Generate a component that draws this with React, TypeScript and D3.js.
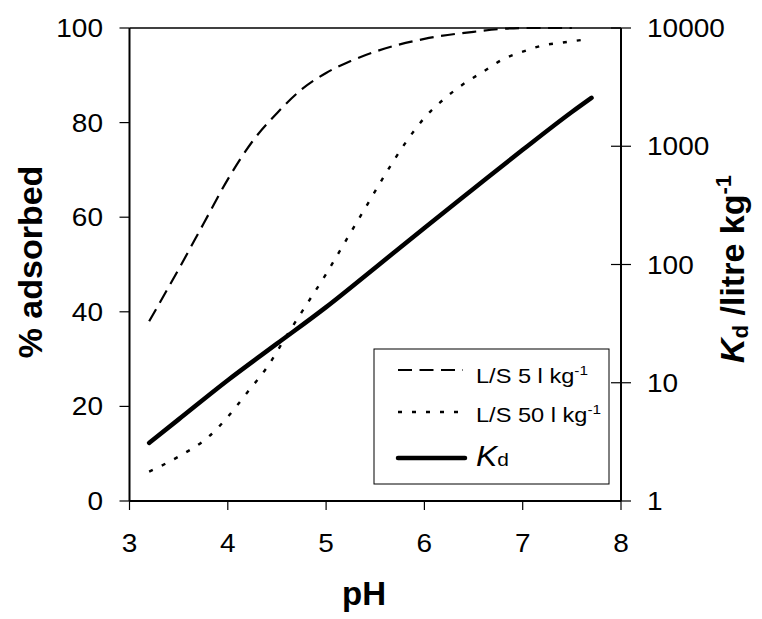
import React, { useEffect, useRef } from "react";
import * as d3 from "d3";

// pH points, one list per curve
const phLs5 = [3.2, 3.5, 3.75, 4, 4.25, 4.5, 4.75, 5, 5.25, 5.5, 6, 6.5, 7, 7.5];
const ls5Values = [38, 49, 58.5, 68, 76, 82, 87, 90.5, 93, 95, 97.7, 99.2, 100, 100];

const phLs50 = [3.2, 3.5, 3.8, 4, 4.2, 4.4, 4.6, 4.8, 5, 5.2, 5.4, 5.6, 5.8, 6, 6.2, 6.4, 6.6, 6.8, 7, 7.2, 7.4, 7.65];
const ls50Values = [6.2, 9.4, 13.5, 17.8, 23, 28.3, 35, 41.5, 48, 55, 62, 69, 75.5, 81, 85, 88.2, 90.8, 93.4, 95, 96.3, 96.9, 97.6];

const phKd = [3.2, 3.5, 4, 4.5, 5, 5.5, 6, 6.5, 7, 7.5, 7.7];
const kdValues = [3.1, 4.9, 10.5, 21.4, 43.6, 94, 204, 437, 933, 1950, 2570];

const xTicks = [3, 4, 5, 6, 7, 8];
const leftTicks = [0, 20, 40, 60, 80, 100];
const rightTicks = [1, 10, 100, 1000, 10000];

const W = 762;
const H = 619;
const FONT = "'Liberation Sans', Arial, sans-serif";

export default function App() {
  const svgRef = useRef<SVGSVGElement>(null);

  useEffect(() => {
    const svg = d3.select(svgRef.current);
    svg.selectAll("*").remove();

    const left = 129.5, right = 621, top = 28, bottom = 501;
    const X = d3.scaleLinear().domain([3, 8]).range([left, right]);
    const Y = d3.scaleLinear().domain([0, 100]).range([bottom, top]);
    const Yk = d3.scaleLog().domain([1, 10000]).range([bottom, top]);

    svg.append("rect").attr("width", W).attr("height", H).attr("fill", "#fff");

    // frame
    svg.append("line").attr("x1", left).attr("x2", right).attr("y1", top).attr("y2", top)
      .attr("stroke", "#000").attr("stroke-width", 1.5);

    // left axis
    const gl = svg.append("g");
    gl.append("line").attr("x1", left).attr("x2", left).attr("y1", top).attr("y2", bottom)
      .attr("stroke", "#000").attr("stroke-width", 2);
    leftTicks.forEach((t) => {
      gl.append("line").attr("x1", left - 10).attr("x2", left).attr("y1", Y(t)).attr("y2", Y(t))
        .attr("stroke", "#000").attr("stroke-width", 1.2);
      gl.append("text")
        .attr("transform", `translate(103,${Y(t) + 9}) scale(1.12,1)`)
        .attr("text-anchor", "end")
        .attr("font-size", 25)
        .text(t);
    });

    // right axis (log)
    const gr = svg.append("g");
    gr.append("line").attr("x1", right).attr("x2", right).attr("y1", top).attr("y2", bottom)
      .attr("stroke", "#000").attr("stroke-width", 2);
    rightTicks.forEach((t) => {
      gr.append("line").attr("x1", right - 10).attr("x2", right + 10).attr("y1", Yk(t)).attr("y2", Yk(t))
        .attr("stroke", "#000").attr("stroke-width", 1.2);
      gr.append("text")
        .attr("transform", `translate(647,${Yk(t) + 9}) scale(1.12,1)`)
        .attr("font-size", 25)
        .text(t);
    });

    // bottom axis
    const gb = svg.append("g");
    gb.append("line").attr("x1", left).attr("x2", right).attr("y1", bottom).attr("y2", bottom)
      .attr("stroke", "#000").attr("stroke-width", 2);
    xTicks.forEach((t) => {
      gb.append("line").attr("x1", X(t)).attr("x2", X(t)).attr("y1", bottom).attr("y2", bottom + 9)
        .attr("stroke", "#000").attr("stroke-width", 1.2);
      gb.append("text")
        .attr("transform", `translate(${X(t)},552) scale(1.12,1)`)
        .attr("text-anchor", "middle")
        .attr("font-size", 25)
        .text(t);
    });

    // curves
    const pctLine = d3.line<[number, number]>().x((d) => X(d[0])).y((d) => Y(d[1])).curve(d3.curveMonotoneX);
    const kdLine = d3.line<[number, number]>().x((d) => X(d[0])).y((d) => Yk(d[1])).curve(d3.curveMonotoneX);

    svg.append("path")
      .attr("d", pctLine(d3.zip(phLs5, ls5Values) as [number, number][]))
      .attr("fill", "none").attr("stroke", "#000").attr("stroke-width", 2.2)
      .attr("stroke-dasharray", "14,7.5");
    svg.append("path")
      .attr("d", pctLine(d3.zip(phLs50, ls50Values) as [number, number][]))
      .attr("fill", "none").attr("stroke", "#000").attr("stroke-width", 2.4)
      .attr("stroke-dasharray", "4,10");
    svg.append("path")
      .attr("d", kdLine(d3.zip(phKd, kdValues) as [number, number][]))
      .attr("fill", "none").attr("stroke", "#000").attr("stroke-width", 4.5)
      .attr("stroke-linecap", "round");

    // legend
    const lg = svg.append("g");
    lg.append("rect").attr("x", 374).attr("y", 349).attr("width", 235).attr("height", 135)
      .attr("fill", "#fff").attr("stroke", "#000").attr("stroke-width", 1);
    lg.append("line").attr("x1", 398).attr("x2", 463).attr("y1", 370).attr("y2", 370)
      .attr("stroke", "#000").attr("stroke-width", 2.2).attr("stroke-dasharray", "14,7.5");
    lg.append("line").attr("x1", 398).attr("x2", 463).attr("y1", 412).attr("y2", 412)
      .attr("stroke", "#000").attr("stroke-width", 2.4).attr("stroke-dasharray", "4,10");
    lg.append("line").attr("x1", 398).attr("x2", 465).attr("y1", 458).attr("y2", 458)
      .attr("stroke", "#000").attr("stroke-width", 4.5).attr("stroke-linecap", "round");

    const legendText = (label: string, y: number) => {
      const t = lg.append("text")
        .attr("transform", `translate(476,${y}) scale(1.18,1)`)
        .attr("font-size", 20);
      t.append("tspan").text(label);
      t.append("tspan").attr("font-size", 13).attr("dy", -8).text("-1");
    };
    legendText("L/S 5 l kg", 383);
    legendText("L/S 50 l kg", 422);
    const kt = lg.append("text").attr("transform", "translate(476,466) scale(1.1,1)");
    kt.append("tspan").attr("font-size", 29).attr("font-style", "italic").text("K");
    kt.append("tspan").attr("font-size", 19).text("d");

    // axis titles
    svg.append("text")
      .attr("transform", "translate(42,262) rotate(-90)")
      .attr("text-anchor", "middle").attr("font-size", 34).attr("font-weight", "bold")
      .text("% adsorbed");
    svg.append("text")
      .attr("x", 364).attr("y", 605)
      .attr("text-anchor", "middle").attr("font-size", 33).attr("font-weight", "bold")
      .text("pH");
    const rt = svg.append("text")
      .attr("transform", "translate(744,269) rotate(-90)")
      .attr("text-anchor", "middle").attr("font-size", 34).attr("font-weight", "bold");
    rt.append("tspan").attr("font-style", "italic").text("K");
    rt.append("tspan").attr("font-size", 22).attr("dy", 4).text("d");
    rt.append("tspan").attr("dy", -4).text(" /litre kg");
    rt.append("tspan").attr("font-size", 22).attr("dy", -13).text("-1");
  }, []);

  return (
    <svg
      ref={svgRef}
      width={W}
      height={H}
      style={{ position: "absolute", left: 0, top: 0, fontFamily: FONT }}
    />
  );
}
